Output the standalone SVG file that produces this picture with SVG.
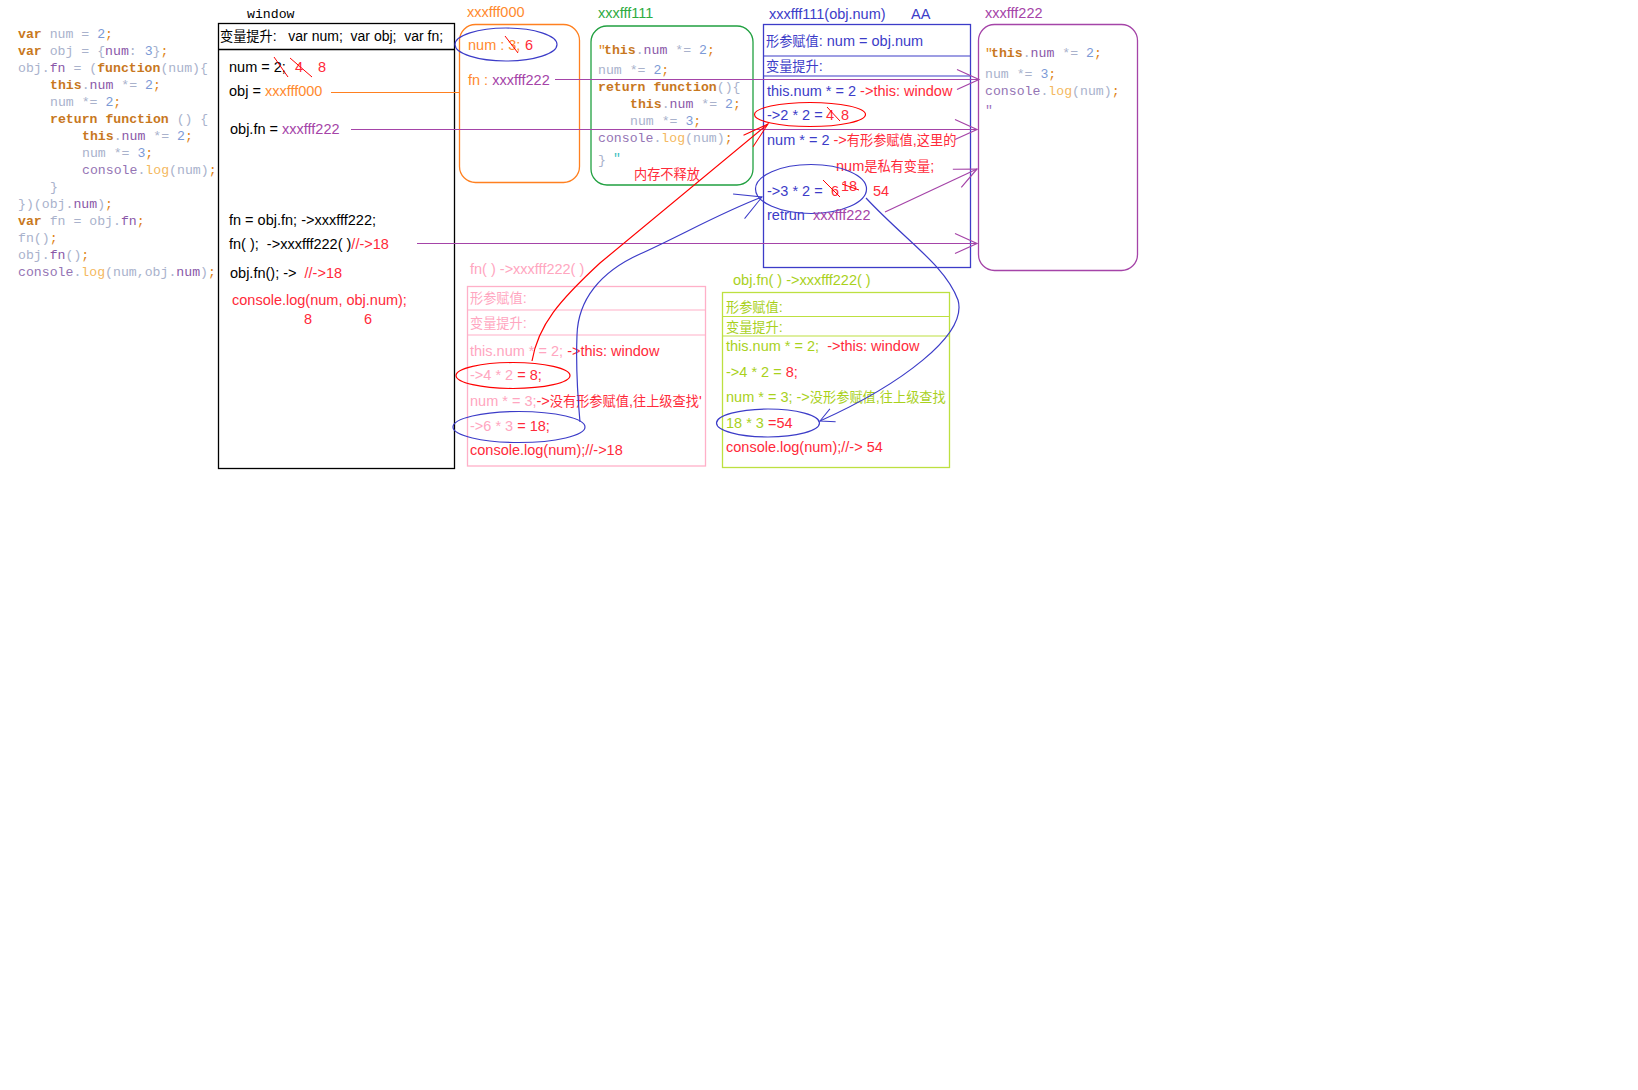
<svg xmlns="http://www.w3.org/2000/svg" width="1638" height="1090" viewBox="0 0 1638 1090">
<style>
.s{font-family:"Liberation Sans","Noto Sans CJK SC",sans-serif;font-size:14.5px;white-space:pre}
.c{font-size:13.2px}
.m{font-family:"Liberation Mono",monospace;font-size:13.2px;white-space:pre}
.kw{fill:#c8781e;font-weight:bold}
.id{fill:#a9b2cc}
.pr{fill:#8a58a8}
.nm{fill:#7c9ad6}
.sc{fill:#e0861a}
.cn{fill:#9474b4}
.lg{fill:#f4b860}
.k{fill:#000}
.r{fill:#ff2a3a}
.b{fill:#3c3cc8}
.o{fill:#ff8a2e}
.p{fill:#a544a8}
.g{fill:#2eab3f}
.pk{fill:#ffa6c0}
.y{fill:#a9d11c}
.box{fill:none;stroke-width:1.3}
.ln{fill:none;stroke-width:1.2}
</style>
<defs>
<marker id="ap" markerUnits="userSpaceOnUse" markerWidth="40" markerHeight="40" viewBox="-30 -20 40 40" refX="0" refY="0" orient="auto"><path d="M-22,-10 L0,0 L-22,10" fill="none" stroke="#a544a8" stroke-width="1.2"/></marker>
<marker id="ar" markerUnits="userSpaceOnUse" markerWidth="40" markerHeight="40" viewBox="-30 -20 40 40" refX="0" refY="0" orient="auto"><path d="M-26,-7 L0,0 L-26,8" fill="none" stroke="#ff0000" stroke-width="1"/></marker>
<marker id="ab" markerUnits="userSpaceOnUse" markerWidth="40" markerHeight="40" viewBox="-30 -20 40 40" refX="0" refY="0" orient="auto"><path d="M-26,-13 L0,0 L-24,14" fill="none" stroke="#3c3cc8" stroke-width="1"/></marker>
<marker id="abs" markerUnits="userSpaceOnUse" markerWidth="30" markerHeight="30" viewBox="-20 -15 30 30" refX="0" refY="0" orient="auto"><path d="M-14,-7 L0,0 L-14,7" fill="none" stroke="#3c3cc8" stroke-width="1"/></marker>
</defs>
<rect width="1638" height="1090" fill="#fff"/>

<g id="code">
<text class="m" x="18" y="38"><tspan class="kw">var</tspan><tspan class="id"> num = </tspan><tspan class="nm">2</tspan><tspan class="sc">;</tspan></text>
<text class="m" x="18" y="55"><tspan class="kw">var</tspan><tspan class="id"> obj = {</tspan><tspan class="pr">num</tspan><tspan class="id">: </tspan><tspan class="nm">3</tspan><tspan class="id">}</tspan><tspan class="sc">;</tspan></text>
<text class="m" x="18" y="72"><tspan class="id">obj.</tspan><tspan class="pr">fn</tspan><tspan class="id"> = (</tspan><tspan class="kw">function</tspan><tspan class="id">(num){</tspan></text>
<text class="m" x="50" y="89"><tspan class="kw">this</tspan><tspan class="id">.</tspan><tspan class="pr">num</tspan><tspan class="id"> *= </tspan><tspan class="nm">2</tspan><tspan class="sc">;</tspan></text>
<text class="m" x="50" y="106"><tspan class="id">num *= </tspan><tspan class="nm">2</tspan><tspan class="sc">;</tspan></text>
<text class="m" x="50" y="123"><tspan class="kw">return</tspan><tspan class="id"> </tspan><tspan class="kw">function</tspan><tspan class="id"> () {</tspan></text>
<text class="m" x="82" y="140"><tspan class="kw">this</tspan><tspan class="id">.</tspan><tspan class="pr">num</tspan><tspan class="id"> *= </tspan><tspan class="nm">2</tspan><tspan class="sc">;</tspan></text>
<text class="m" x="82" y="157"><tspan class="id">num *= </tspan><tspan class="nm">3</tspan><tspan class="sc">;</tspan></text>
<text class="m" x="82" y="174"><tspan class="cn">console</tspan><tspan class="id">.</tspan><tspan class="lg">log</tspan><tspan class="id">(num)</tspan><tspan class="sc">;</tspan></text>
<text class="m" x="50" y="191"><tspan class="id">}</tspan></text>
<text class="m" x="18" y="208"><tspan class="id">})(obj.</tspan><tspan class="pr">num</tspan><tspan class="id">)</tspan><tspan class="sc">;</tspan></text>
<text class="m" x="18" y="225"><tspan class="kw">var</tspan><tspan class="id"> fn = obj.</tspan><tspan class="pr">fn</tspan><tspan class="sc">;</tspan></text>
<text class="m" x="18" y="242"><tspan class="id">fn()</tspan><tspan class="sc">;</tspan></text>
<text class="m" x="18" y="259"><tspan class="id">obj.</tspan><tspan class="pr">fn</tspan><tspan class="id">()</tspan><tspan class="sc">;</tspan></text>
<text class="m" x="18" y="276"><tspan class="cn">console</tspan><tspan class="id">.</tspan><tspan class="lg">log</tspan><tspan class="id">(num,obj.</tspan><tspan class="pr">num</tspan><tspan class="id">)</tspan><tspan class="sc">;</tspan></text>
</g>

<g id="window">
<text class="m k" x="247" y="18">window</text>
<rect class="box" x="218.5" y="23.5" width="236" height="445" stroke="#000"/>
<line x1="218.5" y1="49.5" x2="454.5" y2="49.5" stroke="#000" stroke-width="1.3"/>
<text class="s k" x="220" y="41" style="font-size:14px"><tspan class="c">变量提升</tspan>:   var num;  var obj;  var fn;</text>
<text class="s k" x="229" y="72">num = 2;</text>
<text class="s r" x="295" y="72">4</text>
<text class="s r" x="318" y="72">8</text>
<line x1="274" y1="57" x2="288" y2="77" stroke="#ff0000" stroke-width="1"/>
<line x1="290" y1="58" x2="312" y2="77" stroke="#ff0000" stroke-width="1"/>
<text class="s k" x="229" y="96">obj = <tspan class="o">xxxfff000</tspan></text>
<text class="s k" x="230" y="134">obj.fn = <tspan class="p">xxxfff222</tspan></text>
<text class="s k" x="229" y="225">fn = obj.fn; -&gt;xxxfff222;</text>
<text class="s k" x="229" y="249">fn( );  -&gt;xxxfff222( )<tspan class="r">//-&gt;18</tspan></text>
<text class="s k" x="230" y="278">obj.fn(); -&gt;  <tspan class="r">//-&gt;18</tspan></text>
<text class="s r" x="232" y="305">console.log(num, obj.num);</text>
<text class="s r" x="304" y="324">8</text>
<text class="s r" x="364" y="324">6</text>
</g>

<g id="heap-xxxfff000">
<text class="s o" x="467" y="17">xxxfff000</text>
<rect class="box" x="459.5" y="24.5" width="120" height="158" rx="16" stroke="#ff8020"/>
<ellipse cx="506" cy="44.5" rx="51" ry="16.5" fill="none" stroke="#3c3cc8" stroke-width="1.2"/>
<text class="s o" x="468" y="50">num : 3;</text>
<line x1="505" y1="36" x2="518" y2="53" stroke="#ff0000" stroke-width="1"/>
<text class="s r" x="525" y="50">6</text>
<text class="s o" x="468" y="85">fn : <tspan class="p">xxxfff222</tspan></text>
</g>

<g id="heap-xxxfff111">
<text class="s g" x="598" y="18">xxxfff111</text>
<rect class="box" x="591" y="26" width="162" height="159" rx="16" stroke="#20a040"/>
<text class="m" x="598" y="54"><tspan class="sc">"</tspan></text>
<text class="m" x="604" y="54"><tspan class="kw">this</tspan><tspan class="id">.</tspan><tspan class="pr">num</tspan><tspan class="id"> *= </tspan><tspan class="nm">2</tspan><tspan class="sc">;</tspan></text>
<text class="m" x="598" y="74"><tspan class="id">num *= </tspan><tspan class="nm">2</tspan><tspan class="sc">;</tspan></text>
<text class="m" x="598" y="91"><tspan class="kw">return</tspan><tspan class="id"> </tspan><tspan class="kw">function</tspan><tspan class="id">(){</tspan></text>
<text class="m" x="630" y="108"><tspan class="kw">this</tspan><tspan class="id">.</tspan><tspan class="pr">num</tspan><tspan class="id"> *= </tspan><tspan class="nm">2</tspan><tspan class="sc">;</tspan></text>
<text class="m" x="630" y="125"><tspan class="id">num *= </tspan><tspan class="nm">3</tspan><tspan class="sc">;</tspan></text>
<text class="m" x="598" y="142"><tspan class="cn">console</tspan><tspan class="id">.</tspan><tspan class="lg">log</tspan><tspan class="id">(num)</tspan><tspan class="sc">;</tspan></text>
<text class="m" x="598" y="164"><tspan class="id">}</tspan></text>
<text class="m" x="613" y="162" fill="#3cc0c0">"</text>
<text class="s r c" x="634" y="179">内存不释放</text>
</g>

<g id="scope-xxxfff111">
<text class="s b" x="769" y="19">xxxfff111(obj.num)</text>
<text class="s b" x="911" y="19">AA</text>
<rect class="box" x="763.5" y="24.5" width="207" height="243" stroke="#3c3cc8"/>
<line x1="763.5" y1="56" x2="970.5" y2="56" stroke="#3c3cc8" stroke-width="1.2"/>
<line x1="763.5" y1="76" x2="970.5" y2="76" stroke="#3c3cc8" stroke-width="1.2"/>
<text class="s b" x="766" y="46"><tspan class="c">形参赋值</tspan>: num = obj.num</text>
<text class="s b" x="766" y="71"><tspan class="c">变量提升</tspan>:</text>
<text class="s b" x="767" y="96">this.num * = 2 <tspan class="r">-&gt;this: window</tspan></text>
<ellipse cx="810" cy="114.5" rx="55.5" ry="12" fill="none" stroke="#ff0000" stroke-width="1.2"/>
<text class="s b" x="767" y="120">-&gt;2 * 2 =</text>
<text class="s r" x="826" y="120">4</text>
<text class="s r" x="841" y="120">8</text>
<line x1="827" y1="107" x2="840" y2="121" stroke="#ff0000" stroke-width="1"/>
<text class="s b" x="767" y="145">num * = 2 <tspan class="r">-&gt;<tspan class="c">有形参赋值</tspan>,<tspan class="c">这里的</tspan></tspan></text>
<text class="s r" x="836" y="171">num<tspan class="c">是私有变量</tspan>;</text>
<ellipse cx="811" cy="189" rx="55.5" ry="24.5" fill="none" stroke="#3c3cc8" stroke-width="1.2"/>
<text class="s b" x="767" y="196">-&gt;3 * 2 = </text>
<text class="s r" x="831" y="196">6</text>
<text class="s r" x="841" y="191">18</text>
<text class="s r" x="873" y="196">54</text>
<line x1="823" y1="180" x2="840" y2="197" stroke="#ff0000" stroke-width="1"/>
<line x1="842" y1="184" x2="859" y2="190" stroke="#ff0000" stroke-width="1"/>
<text class="s b" x="767" y="220">retrun  <tspan class="p">xxxfff222</tspan></text>
</g>

<g id="heap-xxxfff222">
<text class="s p" x="985" y="18">xxxfff222</text>
<rect class="box" x="978.5" y="24.5" width="159" height="246" rx="16" stroke="#a544a8"/>
<text class="m" x="985" y="57"><tspan class="sc">"</tspan></text>
<text class="m" x="991" y="57"><tspan class="kw">this</tspan><tspan class="id">.</tspan><tspan class="pr">num</tspan><tspan class="id"> *= </tspan><tspan class="nm">2</tspan><tspan class="sc">;</tspan></text>
<text class="m" x="985" y="78"><tspan class="id">num *= </tspan><tspan class="nm">3</tspan><tspan class="sc">;</tspan></text>
<text class="m" x="985" y="95"><tspan class="cn">console</tspan><tspan class="id">.</tspan><tspan class="lg">log</tspan><tspan class="id">(num)</tspan><tspan class="sc">;</tspan></text>
<text class="m" x="985" y="114" fill="#a070c0">"</text>
</g>

<g id="exec-fn">
<text class="s pk" x="470" y="274">fn( ) -&gt;xxxfff222( )</text>
<rect class="box" x="467.5" y="286.5" width="238" height="179.5" stroke="#ffb0c8"/>
<line x1="467.5" y1="310" x2="705.5" y2="310" stroke="#ffb0c8" stroke-width="1.2"/>
<line x1="467.5" y1="335" x2="705.5" y2="335" stroke="#ffb0c8" stroke-width="1.2"/>
<text class="s pk" x="470" y="303"><tspan class="c">形参赋值</tspan>:</text>
<text class="s pk" x="470" y="328"><tspan class="c">变量提升</tspan>:</text>
<text class="s pk" x="470" y="356">this.num * = 2; <tspan class="r">-&gt;this: window</tspan></text>
<text class="s pk" x="470" y="380">-&gt;4 * 2 <tspan class="r">= 8;</tspan></text>
<ellipse cx="513" cy="375.5" rx="57" ry="13" fill="none" stroke="#ff0000" stroke-width="1.2"/>
<text class="s pk" x="470" y="406">num * = 3;<tspan class="r">-&gt;<tspan class="c">没有形参赋值</tspan>,<tspan class="c">往上级查找</tspan>'</tspan></text>
<text class="s pk" x="470" y="431">-&gt;6 * 3 <tspan class="r">= 18;</tspan></text>
<ellipse cx="519" cy="427" rx="66" ry="15.5" fill="none" stroke="#3c3cc8" stroke-width="1.2"/>
<text class="s r" x="470" y="455">console.log(num);//-&gt;18</text>
</g>

<g id="exec-objfn">
<text class="s y" x="733" y="285">obj.fn( ) -&gt;xxxfff222( )</text>
<rect class="box" x="722.5" y="292.5" width="227" height="175" stroke="#bde040"/>
<line x1="722.5" y1="316.5" x2="949.5" y2="316.5" stroke="#bde040" stroke-width="1.2"/>
<line x1="722.5" y1="336" x2="949.5" y2="336" stroke="#bde040" stroke-width="1.2"/>
<text class="s y" x="726" y="312"><tspan class="c">形参赋值</tspan>:</text>
<text class="s y" x="726" y="332"><tspan class="c">变量提升</tspan>:</text>
<text class="s y" x="726" y="351">this.num * = 2;  <tspan class="r">-&gt;this: window</tspan></text>
<text class="s y" x="726" y="377">-&gt;4 * 2 = <tspan class="r">8;</tspan></text>
<text class="s y" x="726" y="402">num * = 3; -&gt;<tspan class="c">没形参赋值</tspan>,<tspan class="c">往上级查找</tspan></text>
<text class="s y" x="726" y="428">18 * 3 <tspan class="r">=54</tspan></text>
<ellipse cx="768" cy="423" rx="51.5" ry="14" fill="none" stroke="#3c3cc8" stroke-width="1.2"/>
<text class="s r" x="726" y="452">console.log(num);//-&gt; 54</text>
</g>

<g id="connectors">
<line class="ln" x1="331" y1="92.5" x2="459" y2="92.5" stroke="#ff8020"/>
<path class="ln" d="M555,79.5 L979,79.5" stroke="#a544a8" marker-end="url(#ap)"/>
<path class="ln" d="M351,129.5 L977,129.5" stroke="#a544a8" marker-end="url(#ap)"/>
<path class="ln" d="M885,212 L977,169" stroke="#a544a8" marker-end="url(#ap)"/>
<path class="ln" d="M417,243.5 L977,243.5" stroke="#a544a8" marker-end="url(#ap)"/>
<path class="ln" d="M532,361 C538,325 560,300 600,263 L768,124" stroke="#ff0000" stroke-width="1" marker-end="url(#ar)"/>
<path class="ln" d="M580,422 C578,400 576,360 577,335 C578,300 600,272 640,254 C680,236 720,213 762,197" stroke="#3c3cc8" stroke-width="1" marker-end="url(#ab)"/>
<path class="ln" d="M866,198 C905,240 945,265 958,300 C968,335 900,385 820,421" stroke="#3c3cc8" stroke-width="1" marker-end="url(#abs)"/>
</g>
</svg>
